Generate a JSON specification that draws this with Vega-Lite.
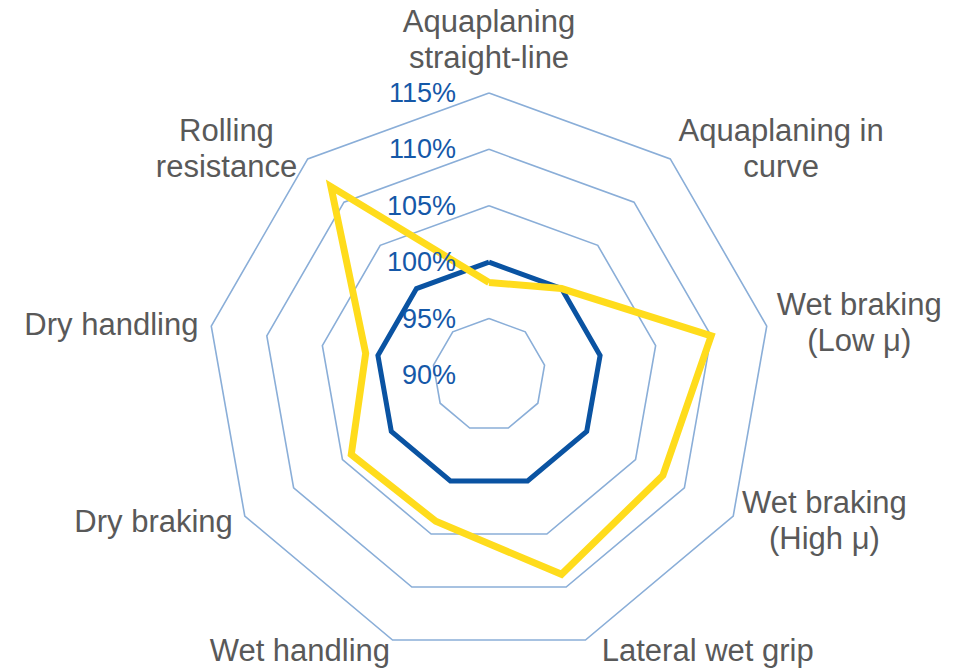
{
  "$schema": "https://vega.github.io/schema/vega-lite/v6.json",
  "width": 963,
  "height": 669,
  "padding": 0,
  "autosize": {"type": "none"},
  "background": "white",
  "config": {"view": {"stroke": null}},
  "datasets": {
    "cats": [
      {"idx": 0, "label": "Aquaplaning\nstraight-line"},
      {"idx": 1, "label": "Aquaplaning in\ncurve"},
      {"idx": 2, "label": "Wet braking\n(Low μ)"},
      {"idx": 3, "label": "Wet braking\n(High μ)"},
      {"idx": 4, "label": "Lateral wet grip"},
      {"idx": 5, "label": "Wet handling"},
      {"idx": 6, "label": "Dry braking"},
      {"idx": 7, "label": "Dry handling"},
      {"idx": 8, "label": "Rolling\nresistance"}
    ],
    "rings": [
      {"level": 95, "idx": [0, 1, 2, 3, 4, 5, 6, 7, 8, 9]},
      {"level": 100, "idx": [0, 1, 2, 3, 4, 5, 6, 7, 8, 9]},
      {"level": 105, "idx": [0, 1, 2, 3, 4, 5, 6, 7, 8, 9]},
      {"level": 110, "idx": [0, 1, 2, 3, 4, 5, 6, 7, 8, 9]},
      {"level": 115, "idx": [0, 1, 2, 3, 4, 5, 6, 7, 8, 9]}
    ],
    "ticks": [
      {"level": 90}, {"level": 95}, {"level": 100},
      {"level": 105}, {"level": 110}, {"level": 115}
    ],
    "scores": [
      {"series": "Reference", "idx": 0, "value": 100},
      {"series": "Reference", "idx": 1, "value": 100},
      {"series": "Reference", "idx": 2, "value": 100},
      {"series": "Reference", "idx": 3, "value": 100},
      {"series": "Reference", "idx": 4, "value": 100},
      {"series": "Reference", "idx": 5, "value": 100},
      {"series": "Reference", "idx": 6, "value": 100},
      {"series": "Reference", "idx": 7, "value": 100},
      {"series": "Reference", "idx": 8, "value": 100},
      {"series": "Reference", "idx": 9, "value": 100},
      {"series": "Tested tyre", "idx": 0, "value": 98.2},
      {"series": "Tested tyre", "idx": 1, "value": 100},
      {"series": "Tested tyre", "idx": 2, "value": 110},
      {"series": "Tested tyre", "idx": 3, "value": 107.8},
      {"series": "Tested tyre", "idx": 4, "value": 108.8},
      {"series": "Tested tyre", "idx": 5, "value": 103.8},
      {"series": "Tested tyre", "idx": 6, "value": 104.1},
      {"series": "Tested tyre", "idx": 7, "value": 101.1},
      {"series": "Tested tyre", "idx": 8, "value": 111.8},
      {"series": "Tested tyre", "idx": 9, "value": 98.2}
    ]
  },
  "layer": [
    {
      "data": {"name": "rings"},
      "transform": [
        {"flatten": ["idx"]},
        {"calculate": "datum.idx * 2 * PI / 9", "as": "a"},
        {"calculate": "(datum.level - 90) * sin(datum.a)", "as": "x"},
        {"calculate": "(datum.level - 90) * cos(datum.a)", "as": "y"}
      ],
      "mark": {"type": "line", "stroke": "#8AAED8", "strokeWidth": 1.6, "strokeJoin": "miter"},
      "encoding": {
        "x": {"field": "x", "type": "quantitative", "scale": {"domain": [-43.35, 42.02], "nice": false, "zero": false}, "axis": null},
        "y": {"field": "y", "type": "quantitative", "scale": {"domain": [-26.06, 33.24], "nice": false, "zero": false}, "axis": null},
        "detail": {"field": "level", "type": "nominal"},
        "order": {"field": "idx", "type": "quantitative"}
      }
    },
    {
      "data": {"name": "scores"},
      "transform": [
        {"filter": "datum.series == 'Reference'"},
        {"calculate": "datum.idx * 2 * PI / 9", "as": "a"},
        {"calculate": "(datum.value - 90) * sin(datum.a)", "as": "x"},
        {"calculate": "(datum.value - 90) * cos(datum.a)", "as": "y"}
      ],
      "mark": {"type": "line", "stroke": "#0A53A2", "strokeWidth": 5, "strokeJoin": "miter"},
      "encoding": {
        "x": {"field": "x", "type": "quantitative", "axis": null},
        "y": {"field": "y", "type": "quantitative", "axis": null},
        "order": {"field": "idx", "type": "quantitative"}
      }
    },
    {
      "data": {"name": "scores"},
      "transform": [
        {"filter": "datum.series == 'Tested tyre'"},
        {"calculate": "datum.idx * 2 * PI / 9", "as": "a"},
        {"calculate": "(datum.value - 90) * sin(datum.a)", "as": "x"},
        {"calculate": "(datum.value - 90) * cos(datum.a)", "as": "y"}
      ],
      "mark": {"type": "line", "stroke": "#FFDC1C", "strokeWidth": 7, "strokeJoin": "miter"},
      "encoding": {
        "x": {"field": "x", "type": "quantitative", "axis": null},
        "y": {"field": "y", "type": "quantitative", "axis": null},
        "order": {"field": "idx", "type": "quantitative"}
      }
    },
    {
      "data": {"name": "ticks"},
      "transform": [
        {"calculate": "datum.level + '%'", "as": "txt"},
        {"calculate": "0", "as": "x"},
        {"calculate": "datum.level - 90", "as": "y"}
      ],
      "mark": {"type": "text", "align": "right", "baseline": "middle", "dx": -33, "dy": 1, "font": "Liberation Sans", "fontSize": 27, "color": "#1558A8"},
      "encoding": {
        "x": {"field": "x", "type": "quantitative", "axis": null},
        "y": {"field": "y", "type": "quantitative", "axis": null},
        "text": {"field": "txt", "type": "nominal"}
      }
    },
    {
      "data": {"name": "cats"},
      "transform": [
        {"calculate": "datum.idx * 2 * PI / 9", "as": "a"},
        {"calculate": "sin(datum.a)", "as": "s"},
        {"calculate": "cos(datum.a)", "as": "c"},
        {"calculate": "indexof(datum.label, '\\n')", "as": "br"},
        {"calculate": "datum.br < 0 ? length(datum.label) : max(datum.br, length(datum.label) - datum.br - 1)", "as": "n"},
        {"calculate": "26 * datum.s + (abs(datum.s) < 0.01 ? 0 : (datum.s > 0 ? 1 : -1) * 0.656 * datum.n)", "as": "x"},
        {"calculate": "26 * datum.c + (abs(datum.s) < 0.01 ? 3.6 : 0) + (datum.br >= 0 ? 1.6 : -0.15)", "as": "y"}
      ],
      "mark": {"type": "text", "align": "center", "baseline": "middle", "lineBreak": "\n", "lineHeight": 36, "font": "Liberation Sans", "fontSize": 31, "color": "#595959"},
      "encoding": {
        "x": {"field": "x", "type": "quantitative", "axis": null},
        "y": {"field": "y", "type": "quantitative", "axis": null},
        "text": {"field": "label", "type": "nominal"}
      }
    }
  ]
}
